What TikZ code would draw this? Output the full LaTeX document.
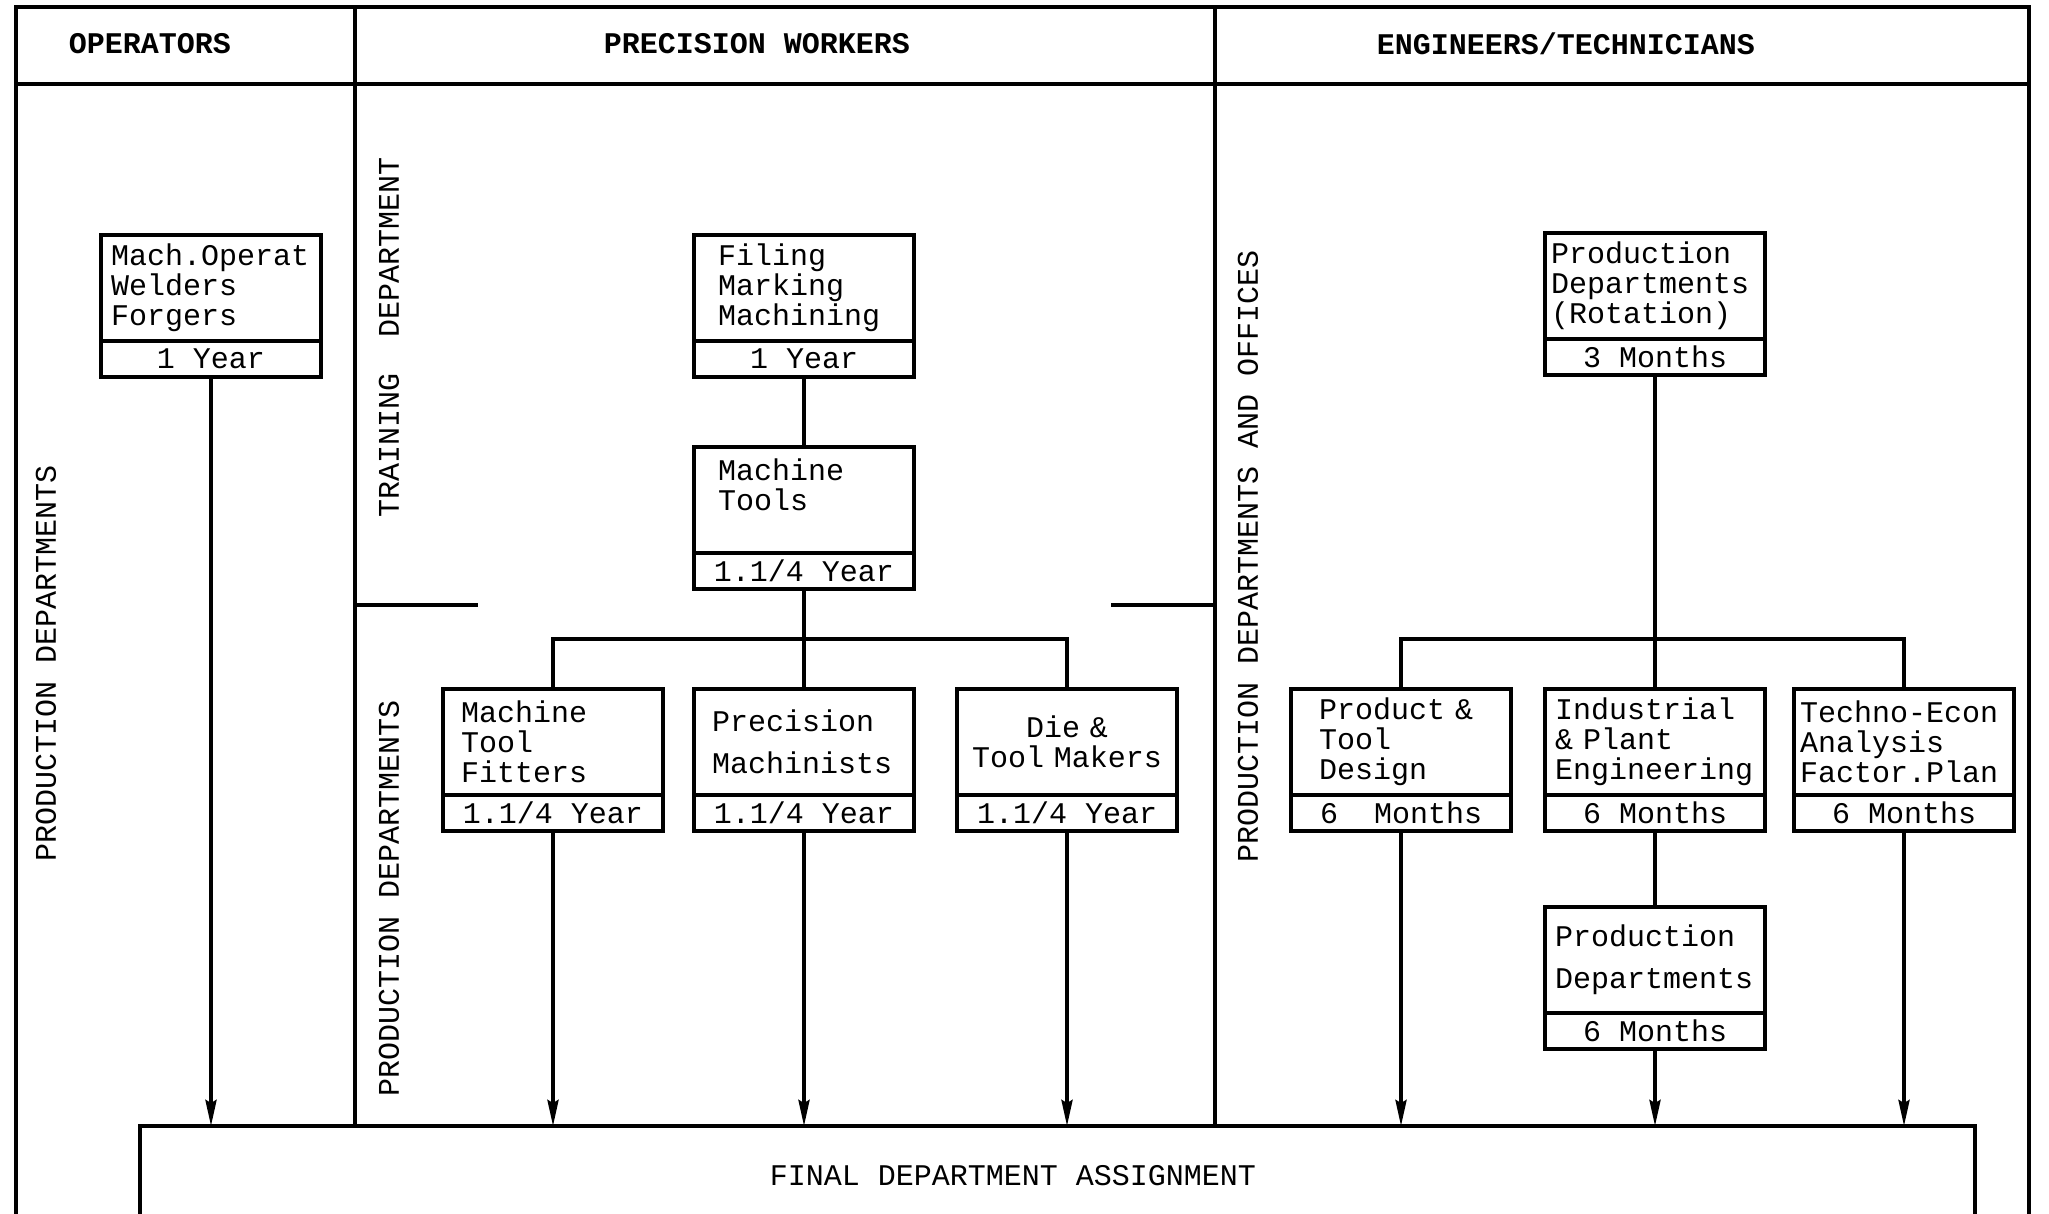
\documentclass[tikz,border=0pt]{standalone}
\usepackage{fontspec}
\newfontfamily\typew{Liberation Mono}
\usetikzlibrary{arrows.meta,positioning}

\begin{document}
\begin{tikzpicture}[x=0.5pt,y=-0.5pt,>={Stealth[length=13pt,width=5.5pt,inset=1.5pt]},
    font=\typew\fontsize{15}{15}\selectfont,
    frame/.style={line width=2pt},
    conn/.style={line width=1.8pt},
    head/.style={font=\typew\bfseries\fontsize{15}{15}\selectfont},
    cell/.style={draw,line width=2.2pt,outer sep=0pt,anchor=north west,minimum width=110pt,minimum height=53pt,text width=100pt,inner xsep=5pt,inner ysep=2pt,align=left},
    dur/.style={draw,line width=2.2pt,outer sep=0pt,minimum width=110pt,minimum height=18pt,inner sep=0pt}]

\useasboundingbox (0,0) rectangle (2049,1214);

\node[draw,frame,outer sep=0pt,anchor=north west,minimum width=917.5pt,minimum height=50pt] (fin) at (140,1126) {};
\node (fintxt) at (1013,1176) {FINAL DEPARTMENT ASSIGNMENT};

\coordinate (c1) at (355,7);
\coordinate (c2) at (1215,7);
\draw[frame] (16,1214) -- (16,7) -- (2029,7) -- (2029,1214);
\draw[frame] (16,84) -- (2029,84);
\draw[frame] (c1) -- (c1 |- fin.north);
\draw[frame] (c2) -- (c2 |- fin.north);
\draw[frame] (355,605) -- (478,605);
\draw[frame] (1111,605) -- (1215,605);

\node[head] (hops) at (150,44) {OPERATORS};
\node[head] (hprec) at (757,44) {PRECISION WORKERS};
\node[head] (heng) at (1566,44) {ENGINEERS/TECHNICIANS};

\node[rotate=90] (lprod) at (46,663) {PRODUCTION DEPARTMENTS};
\node[rotate=90] (ltrain) at (389,337) {TRAINING\ \ DEPARTMENT};
\node[rotate=90] (lprod2) at (389,898) {PRODUCTION DEPARTMENTS};
\node[rotate=90] (loff) at (1248,556) {PRODUCTION DEPARTMENTS AND OFFICES};

\node[cell] (ops) at (101,235) {Mach.Operat\\Welders\\Forgers};
\node[dur,below=0pt of ops] (ops-t) {1 Year};

\node[cell,inner xsep=12pt,text width=86pt] (fil) at (694,235) {Filing\\Marking\\Machining};
\node[dur,below=0pt of fil] (fil-t) {1 Year};
\node[cell,inner xsep=12pt,text width=86pt] (mt) at (694,447) {Machine\\Tools\\~};
\node[dur,below=0pt of mt] (mt-t) {1.1/4 Year};

\node[cell,inner xsep=9pt,text width=92pt] (mtf) at (443,689) {Machine\\Tool\\Fitters};
\node[dur,below=0pt of mtf] (mtf-t) {1.1/4 Year};
\node[cell,inner xsep=9pt,text width=92pt] (pm) at (694,689) {Precision\\[6pt]Machinists};
\node[dur,below=0pt of pm] (pm-t) {1.1/4 Year};
\node[cell,align=center] (dtm) at (957,689) {Die \&\\Tool Makers};
\node[dur,below=0pt of dtm] (dtm-t) {1.1/4 Year};

\node[cell,inner xsep=3pt,text width=104pt] (prot) at (1545,233) {Production\\Departments\\(Rotation)};
\node[dur,below=0pt of prot] (prot-t) {3 Months};

\node[cell,inner xsep=14pt,text width=82pt] (ptd) at (1291,689) {Product \&\\Tool\\Design};
\node[dur,below=0pt of ptd] (ptd-t) {6\ \ Months};
\node[cell] (ipe) at (1545,689) {Industrial\\\& Plant\\Engineering};
\node[dur,below=0pt of ipe] (ipe-t) {6 Months};
\node[cell,inner xsep=3pt,text width=104pt] (tea) at (1794,689) {Techno-Econ\\Analysis\\Factor.Plan};
\node[dur,below=0pt of tea] (tea-t) {6 Months};
\node[cell] (pd) at (1545,907) {Production\\[6pt]Departments};
\node[dur,below=0pt of pd] (pd-t) {6 Months};

\coordinate[below=25pt of mt-t] (pbr);
\coordinate[above=25pt of ipe] (ebr);

\draw[conn] (fil-t) -- (mt);
\draw[conn] (mt-t) -- (pm);
\draw[conn] (mtf.north) |- (pbr) -| (dtm.north);
\draw[conn] (prot-t) -- (ipe);
\draw[conn] (ptd.north) |- (ebr) -| (tea.north);
\draw[conn] (ipe-t) -- (pd);

\draw[conn,->] (ops-t) -- (ops-t |- fin.north);
\draw[conn,->] (mtf-t) -- (mtf-t |- fin.north);
\draw[conn,->] (pm-t) -- (pm-t |- fin.north);
\draw[conn,->] (dtm-t) -- (dtm-t |- fin.north);
\draw[conn,->] (ptd-t) -- (ptd-t |- fin.north);
\draw[conn,->] (pd-t) -- (pd-t |- fin.north);
\draw[conn,->] (tea-t) -- (tea-t |- fin.north);

\end{tikzpicture}
\end{document}
